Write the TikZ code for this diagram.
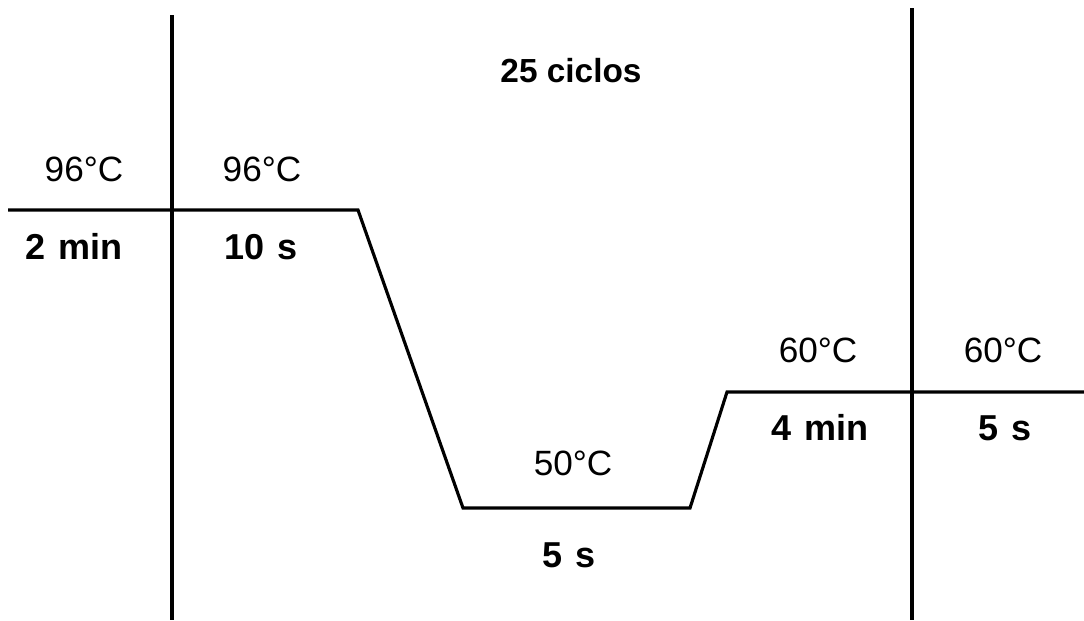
\documentclass[tikz,border=0pt]{standalone}
\usepackage{fontspec}
\setmainfont{Liberation Sans}
\newcommand\widegap{\spaceskip=0.36em\relax}
\begin{document}
\begin{tikzpicture}[
  x=0.02cm, y=-0.02cm,
  temp/.style={anchor=base, inner sep=0pt, font=\fontsize{20}{22}\selectfont},
  time/.style={anchor=base, inner sep=0pt, font=\fontsize{20.5}{22}\selectfont\bfseries\widegap},
  profile/.style={line width=1.8pt, line join=miter}
]
\useasboundingbox (0,0) rectangle (1084,620);

% cycle borders
\draw[profile] (172,15) -- (172,620);
\draw[profile] (912,8) -- (912,620);

% temperature profile
\coordinate (start) at (8,210);
\coordinate (denat) at (358,210);
\coordinate (annA) at (463,508);
\coordinate (annB) at (690,508);
\coordinate (ext) at (727,392);
\coordinate (finish) at (1084,392);
\draw[profile] (start) -- (denat) -- (annA) -- (annB) -- (ext) -- (finish);

\node[time, font=\fontsize{19}{22}\selectfont\bfseries] (cycles) at (571,82) {25 ciclos};

\node[temp] (t1) at (84,181) {96°C};
\node[temp] (t2) at (262,181) {96°C};
\node[time] (d1) at (74,259) {2 min};
\node[time] (d2) at (261,259) {10 s};

\node[temp] (t3) at (573,475) {50°C};
\node[time] (d3) at (569,567) {5 s};

\node[temp] (t4) at (818,362) {60°C};
\node[temp] (t5) at (1003,362) {60°C};
\node[time] (d4) at (820,440) {4 min};
\node[time] (d5) at (1005,440) {5 s};
\end{tikzpicture}
\end{document}
